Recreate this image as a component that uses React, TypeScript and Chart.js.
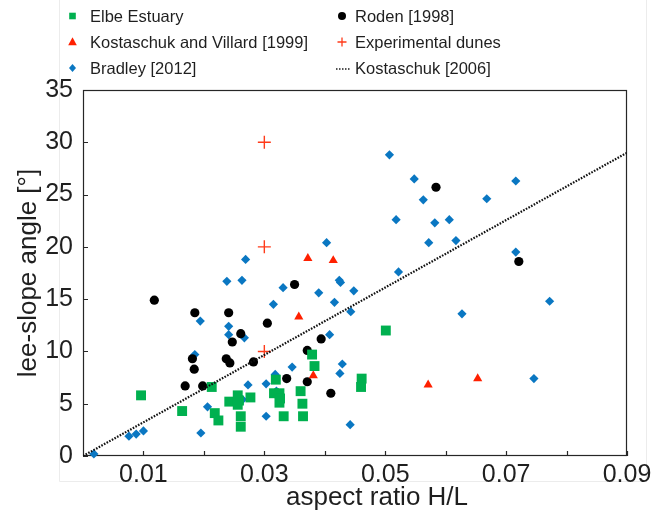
import React, { useEffect, useRef } from 'react';
import { Chart, registerables } from 'chart.js';

Chart.register(...registerables);

const FONT = "'Liberation Sans', Arial, Helvetica, sans-serif";

// ---- data ----
const elbeX = [0.0096, 0.0164, 0.0213, 0.0218, 0.0224, 0.0242, 0.0256, 0.0258, 0.0256, 0.0261, 0.0261, 0.0277, 0.0319, 0.0316, 0.0325, 0.0326, 0.0325, 0.0332, 0.036, 0.0363, 0.0364, 0.0379, 0.0383, 0.0461, 0.046, 0.0501];
const elbeY = [5.8, 4.3, 6.6, 4.1, 3.4, 5.2, 5.8, 5.3, 4.9, 3.8, 2.8, 5.6, 7.3, 6.0, 6.0, 5.5, 5.1, 3.8, 6.2, 5.0, 3.8, 9.7, 8.6, 7.4, 6.6, 12.0];

const rodenX = [0.0118, 0.0185, 0.0181, 0.0184, 0.0169, 0.0198, 0.035, 0.0241, 0.0305, 0.0261, 0.0247, 0.0394, 0.0371, 0.0237, 0.0243, 0.0282, 0.0337, 0.0371, 0.041, 0.0584, 0.0721];
const rodenY = [14.9, 13.7, 9.3, 8.3, 6.7, 6.7, 16.4, 13.7, 12.7, 11.7, 10.9, 11.2, 10.1, 9.3, 8.9, 9.0, 7.4, 7.1, 6.0, 25.7, 18.6];

const kvX = [0.0372, 0.0414, 0.0357, 0.0381, 0.0571, 0.0653];
const kvY = [18.9, 18.7, 13.3, 7.7, 6.8, 7.4];

const expX = [0.03, 0.03, 0.03];
const expY = [30, 20, 10];

const bradleyX = [0.0018, 0.0076, 0.0088, 0.01, 0.0194, 0.0185, 0.0206, 0.0195, 0.0238, 0.0263, 0.0269, 0.0331, 0.039, 0.0315, 0.0241, 0.0241, 0.0267, 0.0408, 0.0346, 0.0318, 0.0273, 0.0303, 0.0303, 0.032, 0.0264, 0.0425, 0.0429, 0.0442, 0.0416, 0.0426, 0.0424, 0.0448, 0.0443, 0.0403, 0.0507, 0.0548, 0.0563, 0.0518, 0.0582, 0.0606, 0.0572, 0.0617, 0.0522, 0.0716, 0.0668, 0.0716, 0.0772, 0.0627, 0.0746];
const bradleyY = [0.2, 1.9, 2.1, 2.4, 12.9, 9.7, 4.7, 2.2, 16.7, 16.8, 18.8, 16.1, 15.6, 14.5, 12.4, 11.6, 11.3, 11.6, 8.5, 7.8, 6.8, 6.9, 3.8, 6.2, 5.4, 7.9, 8.8, 3.0, 14.7, 16.6, 16.8, 15.8, 13.8, 20.4, 28.8, 26.5, 24.5, 22.6, 22.3, 22.6, 20.4, 20.6, 17.6, 26.3, 24.6, 19.5, 14.8, 13.6, 7.4];

const fitX = [0, 0.09];
const fitY = [0, 29.0];

const xTickValues = [0.01, 0.02, 0.03, 0.04, 0.05, 0.06, 0.07, 0.08, 0.09];
const xTickLabels = ['0.01', '', '0.03', '', '0.05', '', '0.07', '', '0.09'];
const yTickValues = [0, 5, 10, 15, 20, 25, 30, 35];

const xTitle = 'aspect ratio H/L';
const yTitle = 'lee-slope angle [°]';

const GREEN = '#00b04f';
const BLUE = '#0a77c2';
const RED = '#ff2000';
const CROSS = '#ff3b1a';
const TEXT = '#1f1f1f';

const pairs = (xs: number[], ys: number[]) => xs.map((x, i) => ({ x, y: ys[i] }));

const legendItems = [
  { label: 'Elbe Estuary', kind: 'square', col: 0, row: 0 },
  { label: 'Kostaschuk and Villard [1999]', kind: 'triangle', col: 0, row: 1 },
  { label: 'Bradley [2012]', kind: 'diamond', col: 0, row: 2 },
  { label: 'Roden [1998]', kind: 'circle', col: 1, row: 0 },
  { label: 'Experimental dunes', kind: 'cross', col: 1, row: 1 },
  { label: 'Kostaschuk [2006]', kind: 'line', col: 1, row: 2 },
];

const decor = {
  id: 'decor',
  beforeDraw(chart: any) {
    const ctx = chart.ctx;
    ctx.save();
    ctx.fillStyle = '#ffffff';
    ctx.fillRect(0, 0, chart.width, chart.height);
    ctx.strokeStyle = '#ececec';
    ctx.lineWidth = 1;
    ctx.beginPath();
    ctx.moveTo(59.5, 0);
    ctx.lineTo(59.5, 481.5);
    ctx.lineTo(646.5, 481.5);
    ctx.lineTo(646.5, 0);
    ctx.stroke();
    ctx.restore();
  },
  beforeDatasetsDraw(chart: any) {
    const ctx = chart.ctx;
    const a = chart.chartArea;
    const xs = chart.scales.x;
    const ys = chart.scales.y;
    ctx.save();
    ctx.strokeStyle = '#262626';
    ctx.lineWidth = 1.2;
    ctx.strokeRect(a.left + 0.5, a.top + 0.5, a.right - a.left - 1, a.bottom - a.top - 1);
    ctx.beginPath();
    yTickValues.forEach((v) => {
      const py = Math.round(ys.getPixelForValue(v)) + 0.5;
      ctx.moveTo(a.left, py);
      ctx.lineTo(a.left + 5, py);
    });
    xTickValues.forEach((v) => {
      const px = Math.round(xs.getPixelForValue(v)) + 0.5;
      ctx.moveTo(px, a.bottom);
      ctx.lineTo(px, a.bottom - 5);
    });
    ctx.stroke();
    ctx.restore();
  },
  afterDraw(chart: any) {
    const ctx = chart.ctx;
    const a = chart.chartArea;
    ctx.save();
    ctx.fillStyle = TEXT;
    // axis titles
    ctx.font = `26px ${FONT}`;
    ctx.textAlign = 'center';
    ctx.textBaseline = 'alphabetic';
    ctx.fillText(xTitle, (a.left + a.right) / 2 + 22, 505);
    ctx.save();
    ctx.translate(36, (a.top + a.bottom) / 2);
    ctx.rotate(-Math.PI / 2);
    ctx.fillText(yTitle, 0, 0);
    ctx.restore();

    // legend
    const colMarkerX = [72.5, 342];
    const colTextX = [90, 355];
    const rowY = [16, 42, 68];
    ctx.font = `16.5px ${FONT}`;
    ctx.textAlign = 'left';
    ctx.textBaseline = 'middle';
    legendItems.forEach((it) => {
      const mx = colMarkerX[it.col];
      const my = rowY[it.row];
      ctx.fillStyle = TEXT;
      ctx.fillText(it.label, colTextX[it.col], my + 1);
      ctx.beginPath();
      if (it.kind === 'square') {
        ctx.fillStyle = GREEN;
        ctx.fillRect(mx - 3.3, my - 3.3, 6.6, 6.6);
      } else if (it.kind === 'triangle') {
        ctx.fillStyle = RED;
        ctx.moveTo(mx, my - 4.8);
        ctx.lineTo(mx + 4.3, my + 3.2);
        ctx.lineTo(mx - 4.3, my + 3.2);
        ctx.closePath();
        ctx.fill();
      } else if (it.kind === 'diamond') {
        ctx.fillStyle = BLUE;
        ctx.moveTo(mx, my - 4);
        ctx.lineTo(mx + 3.5, my);
        ctx.lineTo(mx, my + 4);
        ctx.lineTo(mx - 3.5, my);
        ctx.closePath();
        ctx.fill();
      } else if (it.kind === 'circle') {
        ctx.fillStyle = '#000';
        ctx.arc(mx, my, 4, 0, Math.PI * 2);
        ctx.fill();
      } else if (it.kind === 'cross') {
        ctx.strokeStyle = CROSS;
        ctx.lineWidth = 1.3;
        ctx.moveTo(mx - 4.5, my);
        ctx.lineTo(mx + 4.5, my);
        ctx.moveTo(mx, my - 4.5);
        ctx.lineTo(mx, my + 4.5);
        ctx.stroke();
      } else if (it.kind === 'line') {
        ctx.strokeStyle = '#1a1a1a';
        ctx.lineWidth = 1.6;
        ctx.setLineDash([1.5, 1.5]);
        ctx.moveTo(mx - 6, my + 1);
        ctx.lineTo(mx + 8, my + 1);
        ctx.stroke();
        ctx.setLineDash([]);
      }
    });
    ctx.restore();
  },
};

export default function App() {
  const ref = useRef<HTMLCanvasElement | null>(null);

  useEffect(() => {
    if (!ref.current) return;
    const tickFont = { family: FONT, size: 25 };
    const chart = new Chart(ref.current, {
      type: 'scatter',
      data: {
        datasets: [
          {
            label: 'Kostaschuk [2006]',
            data: pairs(fitX, fitY),
            showLine: true,
            pointRadius: 0,
            borderColor: '#111111',
            borderWidth: 2.2,
            borderDash: [1.6, 1.4],
            order: 0,
          },
          {
            label: 'Experimental dunes',
            data: pairs(expX, expY),
            pointStyle: 'cross',
            pointRadius: 6.5,
            borderColor: CROSS,
            borderWidth: 1.4,
            backgroundColor: CROSS,
            order: 1,
            clip: false,
          },
          {
            label: 'Elbe Estuary',
            data: pairs(elbeX, elbeY),
            pointStyle: 'rect',
            pointRadius: 7,
            backgroundColor: GREEN,
            borderWidth: 0,
            order: 2,
            clip: false,
          },
          {
            label: 'Kostaschuk and Villard [1999]',
            data: pairs(kvX, kvY),
            pointStyle: 'triangle',
            pointRadius: 5.3,
            backgroundColor: RED,
            borderWidth: 0,
            order: 3,
            clip: false,
          },
          {
            label: 'Roden [1998]',
            data: pairs(rodenX, rodenY),
            pointStyle: 'circle',
            pointRadius: 4.6,
            backgroundColor: '#000000',
            borderWidth: 0,
            order: 4,
            clip: false,
          },
          {
            label: 'Bradley [2012]',
            data: pairs(bradleyX, bradleyY),
            pointStyle: 'rectRot',
            pointRadius: 4.6,
            backgroundColor: BLUE,
            borderWidth: 0,
            order: 5,
            clip: false,
          },
        ] as any,
      },
      options: {
        responsive: false,
        animation: false,
        layout: { padding: { left: 0, top: 90, right: 26, bottom: 0 } },
        plugins: {
          legend: { display: false },
          tooltip: { enabled: false },
        },
        scales: {
          x: {
            type: 'linear',
            min: 0,
            max: 0.09,
            grid: { display: false },
            border: { display: false },
            afterFit: (s: any) => {
              s.height = 58;
            },
            afterBuildTicks: (s: any) => {
              s.ticks = xTickValues.map((v) => ({ value: v }));
            },
            ticks: {
              font: tickFont,
              color: TEXT,
              padding: -4,
              maxRotation: 0,
              minRotation: 0,
              autoSkip: false,
              callback: (_v: any, i: number) => xTickLabels[i],
            },
          },
          y: {
            type: 'linear',
            min: 0,
            max: 35,
            grid: { display: false },
            border: { display: false },
            afterFit: (s: any) => {
              s.width = 83;
            },
            afterBuildTicks: (s: any) => {
              s.ticks = yTickValues.map((v) => ({ value: v }));
            },
            ticks: {
              font: tickFont,
              color: TEXT,
              padding: 2,
              autoSkip: false,
              callback: (v: any) => String(v),
            },
          },
        },
      } as any,
      plugins: [decor],
    });
    return () => chart.destroy();
  }, []);

  return (
    <div style={{ position: 'fixed', left: 0, top: 0, width: 653, height: 514, background: '#fff' }}>
      <canvas ref={ref} width={653} height={514} style={{ width: 653, height: 514, display: 'block' }} />
    </div>
  );
}
